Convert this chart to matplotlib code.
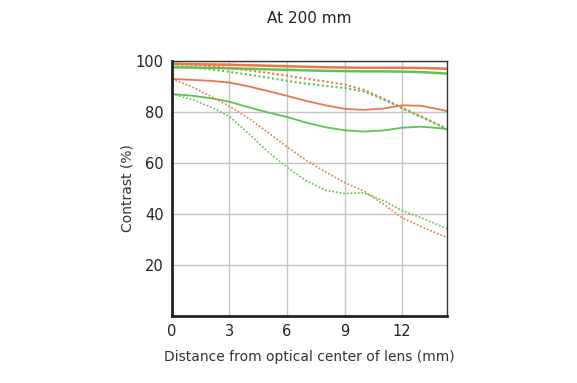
import matplotlib.pyplot as plt

# Distance from optical center (mm)
dist = [0, 1, 2, 3, 4, 5, 6, 7, 8, 9, 10, 11, 12, 13, 14, 14.35]

# 10 lp/mm (upper group)
orange_solid_hi = [98.8, 98.7, 98.6, 98.5, 98.3, 98.1, 97.9, 97.7, 97.5, 97.4, 97.3, 97.3, 97.3, 97.2, 97.0, 96.9]
green_solid_hi = [97.5, 97.4, 97.3, 97.1, 96.9, 96.7, 96.5, 96.3, 96.1, 96.0, 95.9, 95.9, 95.8, 95.6, 95.2, 95.0]
orange_dot_hi = [99.0, 98.6, 98.0, 97.2, 96.3, 95.3, 94.2, 93.0, 91.9, 90.7, 88.7, 85.3, 81.6, 78.2, 74.6, 73.2]
green_dot_hi = [98.0, 97.5, 96.7, 95.7, 94.6, 93.4, 92.2, 91.1, 90.2, 89.4, 88.0, 85.0, 81.4, 78.0, 74.5, 73.1]

# 30 lp/mm (lower group)
orange_solid_lo = [92.9, 92.6, 92.2, 91.5, 90.0, 88.2, 86.3, 84.3, 82.6, 81.2, 80.8, 81.3, 82.6, 82.4, 80.9, 80.3]
green_solid_lo = [87.0, 86.4, 85.4, 84.0, 81.8, 79.8, 78.0, 75.8, 74.0, 72.8, 72.3, 72.7, 73.8, 74.2, 73.6, 73.2]
orange_dot_lo = [92.9, 90.0, 86.2, 82.2, 77.5, 72.0, 66.3, 61.0, 56.5, 52.3, 49.0, 44.0, 38.5, 35.0, 31.8, 30.8]
green_dot_lo = [87.0, 85.0, 82.0, 78.2, 71.5, 64.4, 58.3, 53.0, 49.3, 48.0, 48.3, 45.3, 41.3, 38.5, 35.3, 34.3]

xticks = [0, 3, 6, 9, 12]
yticks = [20, 40, 60, 80, 100]

orange = '#e8784a'
green = '#5cc452'

fig = plt.figure(figsize=(5.77, 3.83), dpi=100)
ax = fig.add_axes([0.298, 0.175, 0.477, 0.666])

dot = (0, (1, 1.2))
ax.plot(dist, orange_solid_hi, color=orange, lw=1.8)
ax.plot(dist, green_solid_hi, color=green, lw=1.8)
ax.plot(dist, orange_dot_hi, color=orange, lw=1.5, ls=dot)
ax.plot(dist, green_dot_hi, color=green, lw=1.5, ls=dot)
ax.plot(dist, orange_solid_lo, color=orange, lw=1.3)
ax.plot(dist, green_solid_lo, color=green, lw=1.3)
ax.plot(dist, orange_dot_lo, color=orange, lw=1.2, ls=dot)
ax.plot(dist, green_dot_lo, color=green, lw=1.2, ls=dot)

ax.set_xlim(0, 14.35)
ax.set_ylim(0, 100)
ax.set_xticks(xticks)
ax.set_yticks(yticks)
ax.grid(True, color='#c4c4c4', lw=1.0)
ax.set_axisbelow(True)
ax.tick_params(length=0, labelsize=10.5, colors='#222222', pad=6)

for side in ['top', 'right']:
    ax.spines[side].set_linewidth(1.0)
    ax.spines[side].set_color('#333333')
for side in ['left', 'bottom']:
    ax.spines[side].set_linewidth(2.0)
    ax.spines[side].set_color('#222222')

ax.set_title('At 200 mm', fontsize=11, color='#222222', pad=27)
ax.set_xlabel('Distance from optical center of lens (mm)', fontsize=10, color='#333333', labelpad=8)
ax.set_ylabel('Contrast (%)', fontsize=10, color='#333333', labelpad=1)

fig.savefig('out.png', dpi=100)
